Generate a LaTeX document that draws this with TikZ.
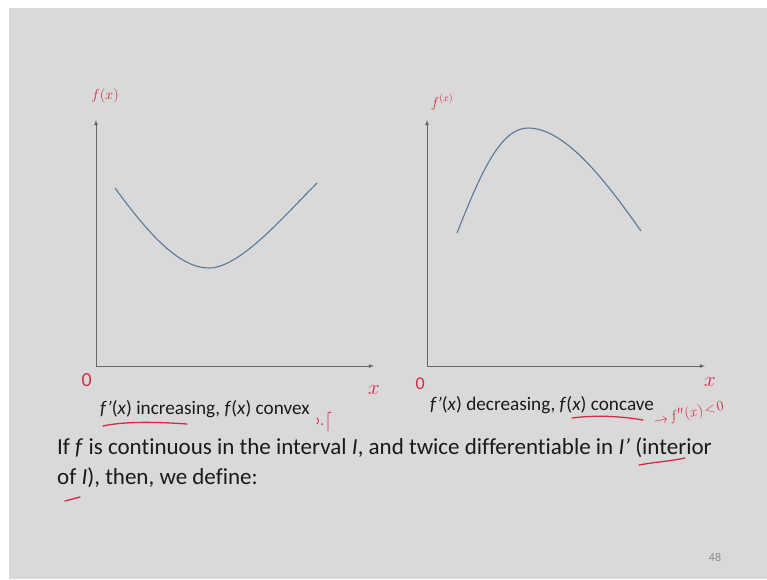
\documentclass[tikz,border=0pt]{standalone}
\usepackage{fontspec}
\setmainfont[Ligatures=NoCommon]{Carlito}
\usetikzlibrary{positioning}
\definecolor{slide}{HTML}{D9D9D9}
\definecolor{ink}{HTML}{1A1A1A}
\definecolor{pen}{HTML}{D42A45}
\definecolor{graph}{HTML}{5A7896}
\begin{document}
\begin{tikzpicture}[x=1pt,y=-1pt,
  axis/.style={draw=black!60,line width=0.8pt,-latex},
  curve/.style={draw=graph,line width=1.1pt},
  hand/.style={text=pen,inner sep=0pt,font=\fontsize{14}{14}\selectfont},
  scrib/.style={draw=pen,line width=1.3pt,line cap=round},
  caption/.style={text=ink,inner sep=0pt,anchor=base west,font=\fontsize{19.2}{24}\selectfont},
  body/.style={text=ink,inner sep=0pt,anchor=base west,font=\fontsize{23}{30}\selectfont}]

\useasboundingbox (0,0) rectangle (767,579);
\fill[white] (0,0) rectangle (767,579);
\fill[slide] (9,8) rectangle (767,579);

\coordinate (o1) at (96,366);
\coordinate (ytop1) at (96,120);
\coordinate (xend1) at (374,366);
\coordinate (o2) at (427,366);
\coordinate (ytop2) at (427,120);
\coordinate (xend2) at (705,366);

\draw[axis] (o1) -- (ytop1);
\draw[axis] (o1) -- (xend1);
\draw[axis] (o2) -- (ytop2);
\draw[axis] (o2) -- (xend2);

\coordinate (a1) at (115,188);
\coordinate (m1) at (209,268);
\coordinate (b1) at (317,183);
\draw[curve] (a1) .. controls (150,236) and (180,268) .. (m1)
  .. controls (240,268) and (285,215) .. (b1);

\coordinate (a2) at (457,233);
\coordinate (m2) at (528,128);
\coordinate (b2) at (641,231);
\draw[curve] (a2) .. controls (480,175) and (500,128) .. (m2)
  .. controls (565,128) and (605,180) .. (b2);

\node (fx1) [hand,above=17pt of ytop1,xshift=9pt] {$f(x)$};
\node (fx2) [hand,above=10pt of ytop2,xshift=15pt] {$f^{(x)}$};
\node (zero1) [hand,below left=7pt and 4pt of o1,font=\fontsize{20}{20}\selectfont] {0};
\node (zero2) [hand,below left=12pt and 2pt of o2,font=\fontsize{18}{18}\selectfont] {0};
\node (xlab1) [hand,below=19pt of xend1,font=\fontsize{20}{20}\selectfont] {$x$};
\node (xlab2) [hand,below=11pt of xend2,xshift=5pt,font=\fontsize{20}{20}\selectfont] {$x$};

\node (cap1) [caption] at (100,414) {\textit{f'}(\textit{x}) increasing, \textit{f}(\textit{x}) convex};
\node (cap2) [caption] at (430,410) {\textit{f'}(\textit{x}) decreasing, \textit{f}(\textit{x}) concave};
\node (fpp) [hand,rotate=12,font=\fontsize{15}{15}\selectfont] at (689,414) {$\rightarrow\! f''(x)\!<\!0$};

\node (line1) [body] at (57,454) {If \textit{f} is continuous in the interval \textit{I}, and twice differentiable in \textit{I'} (interior};
\node (line2) [body] at (57,484) {of \textit{I}), then, we define:};

\node (page) [text=black!45,font=\fontsize{12}{12}\selectfont] at (715,557) {48};

\draw[scrib] (103,426) .. controls (125,421) and (160,422) .. (187,424);
\draw[scrib] (572,418) .. controls (595,415) and (620,416) .. (643,420);
\draw[scrib] (639,465) .. controls (655,462) and (672,461) .. (685,458);
\draw[scrib] (65,501) -- (80,497);
\draw[scrib,line width=0.9pt] (317,418) .. controls (319,420) .. (317,424);
\fill[pen] (322,424) circle (1pt);
\draw[scrib,line width=0.9pt] (331,412) -- (328,413) -- (328,431);

\end{tikzpicture}
\end{document}
